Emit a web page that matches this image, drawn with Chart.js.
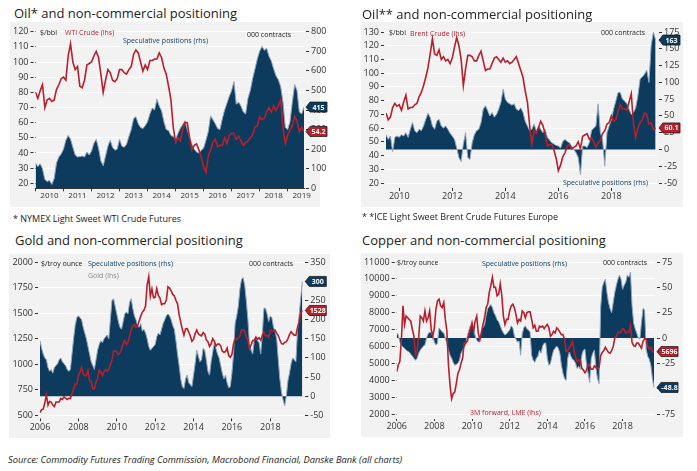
<!DOCTYPE html>
<html>
<head>
<meta charset="utf-8">
<script src="https://cdn.jsdelivr.net/npm/chart.js@4/dist/chart.umd.min.js"></script>
<style>
body { margin: 0; width: 697px; height: 471px; background: #fff; position: relative; overflow: hidden; font-family: "Open Sans", sans-serif; color: #1e1e1e; }
.box { position: absolute; background: #f2f2f2; }
canvas { position: absolute; }
.t { position: absolute; white-space: nowrap; line-height: 1; }
.title { font-size: 13px; color: #222; }
.lbl { font-size: 7px; color: #222; }
.note { font-size: 9px; color: #222; }
.red { color: #b71f2b; }
.navy { color: #0c3b5e; }
.grey { color: #8a8a8a; }
</style>
</head>
<body>
<div class="box" style="left:10px;top:22px;width:310px;height:185px"></div>
<div class="box" style="left:361px;top:22px;width:322px;height:185px"></div>
<div class="box" style="left:9px;top:254px;width:321px;height:184px"></div>
<div class="box" style="left:361px;top:253px;width:322px;height:184px"></div>

<canvas id="wti" width="322" height="185" style="left:10px;top:22px"></canvas>
<canvas id="brent" width="322" height="185" style="left:361px;top:22px"></canvas>
<canvas id="gold" width="323" height="184" style="left:9px;top:254px"></canvas>
<canvas id="copper" width="322" height="184" style="left:361px;top:253px"></canvas>

<div class="t title" style="left:14px;top:6.5px">Oil* and non-commercial positioning</div>
<div class="t title" style="left:362px;top:7.5px">Oil** and non-commercial positioning</div>
<div class="t title" style="left:15px;top:233.5px">Gold and non-commercial positioning</div>
<div class="t title" style="left:362px;top:233.5px">Copper and non-commercial positioning</div>

<div class="t lbl" style="left:40px;top:28.5px">$/bbl</div>
<div class="t lbl red" style="left:65px;top:28.5px">WTI Crude (lhs)</div>
<div class="t lbl navy" style="left:123px;top:36.5px">Speculative positions (rhs)</div>
<div class="t lbl" style="left:247px;top:30.5px">000 contracts</div>

<div class="t lbl" style="left:389px;top:28.5px">$/bbl</div>
<div class="t lbl red" style="left:410px;top:29.5px">Brent Crude (lhs)</div>
<div class="t lbl" style="left:601px;top:28.5px">000 contracts</div>
<div class="t lbl navy" style="left:563px;top:179px">Speculative positions (rhs)</div>

<div class="t lbl" style="left:41px;top:259.5px">$/troy ounce</div>
<div class="t lbl navy" style="left:88px;top:259.5px">Speculative positions (rhs)</div>
<div class="t lbl grey" style="left:88px;top:272px">Gold (lhs)</div>
<div class="t lbl" style="left:249px;top:259.5px">000 contracts</div>

<div class="t lbl" style="left:397px;top:258.5px">$/troy ounce</div>
<div class="t lbl navy" style="left:482px;top:260px">Speculative positions (rhs)</div>
<div class="t lbl" style="left:603px;top:258.5px">000 contracts</div>
<div class="t lbl red" style="left:470px;top:408.5px">3M forward, LME (lhs)</div>

<div class="t note" style="left:13px;top:214px">* NYMEX Light Sweet WTI Crude Futures</div>
<div class="t note" style="left:362px;top:211.5px">* *ICE Light Sweet Brent Crude Futures Europe</div>
<div class="t note" style="left:8px;top:455px;font-style:italic;font-size:9.3px">Source: Commodity Futures Trading Commission, Macrobond Financial, Danske Bank (all charts)</div>

<script>
// monthly series, first value = first month given in each panel's start
const wtiPrice = [
  80, 76, 81, 85, 70, 75, 76, 74, 75, 82, 85, 89,
  90, 88, 104, 112, 100, 95, 97, 84, 83, 88, 98, 99,
  100, 104, 107, 103, 92, 80, 88, 95, 93, 88, 87, 89,
  95, 95, 93, 92, 95, 97, 105, 108, 106, 100, 94, 98,
  95, 101, 101, 102, 102, 106, 103, 96, 92, 84, 75, 57,
  47, 50, 48, 55, 60, 60, 50, 42, 45, 46, 42, 37,
  31, 27, 38, 42, 47, 49, 44, 45, 45, 50, 46, 52,
  53, 53, 49, 51, 48, 45, 47, 48, 50, 52, 57, 58,
  64, 62, 63, 67, 70, 67, 71, 68, 71, 75, 57, 46,
  52, 55, 58, 64, 61, 54, 57, 54.2
];
const wtiSpec = [
  130, 110, 125, 100, 45, 35, 40, 20, 50, 130, 160, 175,
  200, 245, 270, 250, 210, 170, 160, 162, 165, 160, 185, 170,
  190, 230, 250, 205, 140, 115, 165, 215, 245, 210, 195, 200,
  250, 215, 210, 225, 265, 300, 355, 365, 330, 310, 305, 320,
  340, 380, 410, 400, 455, 420, 395, 340, 300, 295, 270, 265,
  250, 280, 305, 325, 345, 300, 260, 225, 200, 185, 180, 195,
  205, 245, 290, 370, 350, 330, 305, 300, 355, 400, 435, 470,
  500, 545, 430, 440, 420, 390, 380, 460, 500, 560, 610, 660,
  700, 725, 705, 715, 675, 650, 610, 575, 555, 520, 440, 310,
  300, 340, 440, 530, 500, 390, 380, 415
];

const brentPrice = [
  71, 66, 68, 75, 78, 76,
  77, 73, 79, 84, 74, 75, 75, 77, 78, 83, 86, 91,
  97, 104, 114, 125, 114, 113, 117, 110, 112, 109, 110, 107,
  111, 119, 126, 120, 110, 91, 103, 113, 113, 112, 109, 109,
  113, 116, 109, 102, 103, 103, 107, 111, 112, 110, 108, 111,
  108, 109, 107, 108, 110, 112, 107, 102, 97, 87, 79, 62,
  48, 58, 56, 60, 65, 62, 56, 47, 48, 48, 44, 38,
  29, 33, 39, 42, 47, 48, 45, 46, 47, 50, 45, 54,
  55, 56, 52, 53, 50, 46, 49, 51, 56, 58, 63, 64,
  69, 65, 66, 72, 77, 74, 74, 73, 79, 85, 63, 53,
  60, 64, 66, 71, 70, 63, 64, 59, 60.1
];
const brentSpec = [
  22, 15, 20, -3, 18, 20,
  18, 22, 20, 25, 18, 30, 40, 28, 25, 30, 28, 35,
  45, 54, 48, 35, 30, 42, 45, 35, 32, 35, 30, 24,
  20, 15, 2, -12, -18, 8, 25, -12, -15, 10, 22, 28,
  30, 40, 60, 65, 58, 50, 55, 48, 52, 60, 70, 90,
  75, 70, 68, 66, 68, 60, 58, 62, 55, 42, 35, 28,
  30, 38, 28, 35, 30, 25, 30, 18, 14, 10, 8, 6,
  5, 2, 12, 15, 12, 10, 5, 0, -5, -12, -38, 5,
  5, 3, 10, 28, 32, 35, 68, 25, 15, -25, 25, 35,
  45, 60, 72, 85, 85, 75, 72, 68, 60, 52, 55, 62,
  80, 105, 108, 112, 118, 100, 155, 175, 163
];

const goldPrice = [
  525, 555, 560, 620, 700, 600, 635, 630, 600, 585, 630, 630,
  630, 665, 655, 680, 668, 655, 666, 665, 713, 754, 807, 803,
  889, 925, 970, 909, 888, 890, 939, 839, 830, 760, 761, 822,
  858, 943, 925, 890, 928, 946, 934, 949, 996, 1043, 1127, 1134,
  1118, 1095, 1114, 1149, 1205, 1233, 1193, 1215, 1271, 1343, 1370, 1391,
  1360, 1374, 1424, 1474, 1512, 1529, 1572, 1780, 1860, 1666, 1739, 1652,
  1656, 1742, 1674, 1650, 1585, 1596, 1594, 1630, 1760, 1747, 1721, 1685,
  1671, 1627, 1593, 1485, 1414, 1343, 1286, 1347, 1349, 1316, 1275, 1225,
  1244, 1300, 1336, 1299, 1287, 1279, 1311, 1296, 1239, 1222, 1176, 1201,
  1251, 1227, 1179, 1198, 1199, 1181, 1128, 1117, 1125, 1159, 1086, 1068,
  1097, 1200, 1246, 1242, 1260, 1276, 1337, 1341, 1326, 1267, 1238, 1151,
  1192, 1234, 1231, 1267, 1246, 1260, 1236, 1283, 1315, 1280, 1283, 1265,
  1331, 1331, 1325, 1335, 1303, 1282, 1238, 1202, 1198, 1215, 1221, 1250,
  1291, 1320, 1300, 1286, 1284, 1359, 1413, 1500, 1528
];
const goldSpec = [
  145, 125, 110, 100, 95, 75, 65, 70, 60, 75, 80, 85,
  95, 100, 90, 85, 80, 70, 65, 70, 110, 150, 185, 205,
  210, 205, 200, 180, 165, 150, 130, 110, 90, 80, 70, 95,
  120, 135, 145, 140, 150, 155, 160, 150, 200, 250, 255, 235,
  215, 195, 180, 175, 195, 215, 220, 215, 245, 255, 230, 210,
  200, 185, 180, 190, 170, 175, 165, 150, 130, 120, 125, 130,
  135, 155, 165, 160, 175, 190, 200, 210, 215, 210, 200, 185,
  175, 145, 110, 80, 45, 25, 20, 45, 55, 35, 30, 25,
  55, 85, 120, 105, 90, 95, 125, 120, 95, 65, 55, 90,
  115, 140, 125, 110, 100, 80, 60, 45, 55, 35, 22, 25,
  60, 110, 190, 210, 235, 280, 305, 310, 290, 250, 200, 135,
  120, 110, 150, 155, 145, 140, 110, 160, 230, 230, 215, 195,
  210, 205, 180, 170, 150, 95, 45, 10, -10, -25, 0, 40,
  60, 85, 100, 95, 90, 170, 210, 255, 300
];

const copperPrice = [
  4500, 4900, 5100, 6400, 8400, 7300, 7800, 7700, 7600, 7500, 7000, 6600,
  5500, 5700, 6500, 7800, 7700, 7500, 8100, 7500, 7700, 8100, 7000, 6600,
  7100, 8200, 8700, 8800, 8400, 8300, 8600, 7600, 6900, 4900, 3700, 2900,
  3200, 3300, 3800, 4400, 4600, 5000, 5300, 6200, 6200, 6300, 6700, 7000,
  7400, 6900, 7500, 7800, 6800, 6400, 6800, 7300, 7700, 8300, 8500, 9200,
  9600, 10100, 9500, 9500, 9000, 9100, 9700, 9000, 7800, 7300, 7600, 7600,
  8100, 8400, 8500, 8300, 7900, 7400, 7600, 7500, 8100, 8000, 7700, 8000,
  8050, 8050, 7600, 7100, 7250, 6900, 6900, 7200, 7150, 7200, 7050, 7200,
  7300, 7100, 6600, 6700, 6900, 6800, 7100, 7000, 6850, 6700, 6700, 6400,
  5700, 5750, 5950, 6050, 6300, 5800, 5400, 5100, 5200, 5200, 4700, 4600,
  4450, 4600, 4950, 4850, 4650, 4650, 4850, 4750, 4700, 4750, 5450, 5650,
  5750, 5950, 5800, 5650, 5600, 5750, 6000, 6500, 6600, 6850, 6800, 6850,
  7050, 7000, 6800, 6850, 6850, 7250, 6250, 6050, 6000, 6200, 6200, 6050,
  5900, 6300, 6450, 6450, 6000, 5850, 5950, 5700, 5696
];
const copperSpec = [
  5, 3, -4, -7, -9, -10, -12, -13, -14, -16, -18, -20,
  -22, -20, -15, -12, -10, -8, -7, 0, 4, 6, 5, 2,
  -4, -7, -5, 10, 8, 6, 5, 0, -6, -12, -17, -20,
  -24, -27, -26, -25, -22, -15, -12, -9, -7, 2, 8, 12,
  13, 10, 2, -2, -4, -3, 8, 10, 13, 22, 29, 31,
  33, 30, 25, 22, 18, 16, 12, 8, 5, 3, 4, 6,
  8, 12, 10, 2, -1, -4, -3, -17, 4, 10, 12, 9,
  8, 6, -17, -22, -24, -20, -18, -12, -15, -8, -5, -5,
  -20, -27, -25, -18, -12, -10, -8, -10, -15, -27, -35, -40,
  -42, -20, -14, -18, -21, -22, -25, -30, -28, -31, -17, -12,
  -11, -27, -35, -44, -20, -15, -12, -30, -40, -45, 30, 50,
  55, 58, 45, 35, 29, 25, 35, 45, 52, 58, 62, 58,
  48, 52, 55, 62, 60, 65, 32, 15, 9, 5, 0, -1,
  15, 29, 28, -11, -18, -21, -27, -40, -48.8
];

const wtiYears = [2010, 2011, 2012, 2013, 2014, 2015, 2016, 2017, 2018, 2019];
const evenYears2010 = [2010, 2012, 2014, 2016, 2018];
const evenYears2006 = [2006, 2008, 2010, 2012, 2014, 2016, 2018];
const wtiLeftTicks = [20, 30, 40, 50, 60, 70, 80, 90, 100, 110, 120];
const wtiRightTicks = [0, 100, 200, 300, 400, 500, 600, 700, 800];
const brentLeftTicks = [20, 30, 40, 50, 60, 70, 80, 90, 100, 110, 120, 130];
const brentRightTicks = [-50, -25, 0, 25, 50, 75, 100, 125, 150, 175];
const goldLeftTicks = [500, 750, 1000, 1250, 1500, 1750, 2000];
const goldRightTicks = [-50, 0, 50, 100, 150, 200, 250, 300, 350];
const copperLeftTicks = [2000, 3000, 4000, 5000, 6000, 7000, 8000, 9000, 10000, 11000];
const copperRightTicks = [-75, -50, -25, 0, 25, 50, 75];

const NAVY = '#0c3b5e';
const RED = '#b71f2b';
const TICK = '#333';

Chart.defaults.font.family = '"Open Sans", sans-serif';

function monthSteps(year, month, n) {
  const out = [];
  for (let i = 0; i < n; i++) out.push(year + (month - 1 + i) / 12);
  return out;
}

function tagPlugin(tags) {
  return {
    id: 'tags',
    afterDraw(chart) {
      const ctx = chart.ctx;
      const x0 = chart.chartArea.right + 2;
      tags.forEach(t => {
        const y = chart.scales[t.axis].getPixelForValue(t.value);
        ctx.save();
        ctx.beginPath();
        ctx.moveTo(x0, y);
        ctx.lineTo(x0 + 4, y - 5);
        ctx.lineTo(x0 + 21, y - 5);
        ctx.lineTo(x0 + 21, y + 5);
        ctx.lineTo(x0 + 4, y + 5);
        ctx.closePath();
        ctx.fillStyle = t.color;
        ctx.fill();
        ctx.strokeStyle = '#1a1a1a';
        ctx.lineWidth = 0.8;
        ctx.stroke();
        ctx.fillStyle = '#fff';
        ctx.font = 'bold 7px "Open Sans"';
        ctx.textAlign = 'center';
        ctx.textBaseline = 'middle';
        ctx.fillText(t.text, x0 + 12.5, y + 0.5);
        ctx.restore();
      });
    }
  };
}

function panel(id, p) {
  const xs = monthSteps(p.start[0], p.start[1], p.price.length);
  const pts = vals => vals.map((v, i) => ({ x: xs[i], y: v }));
  const label = v => String(v);

  new Chart(document.getElementById(id), {
    type: 'line',
    data: {
      datasets: [
        { data: pts(p.price), yAxisID: 'y', borderColor: RED, borderWidth: 1.6, pointRadius: 0, fill: false },
        { data: pts(p.spec), yAxisID: 'y2', borderColor: '#93a7bb', borderWidth: 1, backgroundColor: NAVY, pointRadius: 0, fill: 'origin' }
      ]
    },
    options: {
      responsive: false,
      animation: false,
      devicePixelRatio: 1,
      layout: { padding: { top: p.top, left: 0, right: 0, bottom: 0 } },
      plugins: { legend: { display: false }, tooltip: { enabled: false } },
      scales: {
        x: {
          type: 'linear', min: p.xMin, max: p.xMax,
          afterBuildTicks: s => { s.ticks = p.years.map(v => ({ value: v })); },
          afterFit: s => { s.height = p.bottom; },
          ticks: { callback: label, font: { size: p.xFont }, color: TICK, padding: p.xPad, labelOffset: p.xOffset || 0, maxRotation: 0, autoSkip: false },
          grid: { drawOnChartArea: false, tickLength: p.xTick[0], tickBorderDash: p.xTick[1], tickColor: TICK },
          border: { display: !!p.xBorder, color: TICK, width: 1 }
        },
        y: {
          position: 'left', min: p.yMin, max: p.yMax,
          afterBuildTicks: s => { s.ticks = p.yTicks.map(v => ({ value: v })); },
          afterFit: s => { s.width = p.left; },
          ticks: { callback: label, font: { size: 9 }, color: TICK, padding: 2, autoSkip: false },
          grid: { color: '#fff', lineWidth: 1, tickColor: TICK, tickLength: 5, tickBorderDash: [3, 2] },
          border: { display: false }
        },
        y2: {
          position: 'right', min: p.y2Min, max: p.y2Max,
          afterBuildTicks: s => { s.ticks = p.y2Ticks.map(v => ({ value: v })); },
          afterFit: s => { s.width = p.right; },
          ticks: { callback: label, font: { size: 9 }, color: TICK, padding: 2, autoSkip: false },
          grid: { drawOnChartArea: false, tickColor: TICK, tickLength: 5, tickBorderDash: [0, 2, 3] },
          border: { display: false }
        }
      }
    },
    plugins: [tagPlugin(p.tags)]
  });
}

panel('wti', {
  start: [2010, 1], price: wtiPrice, spec: wtiSpec,
  xMin: 2010, xMax: 2019 + 7 / 12, years: wtiYears, xFont: 8, xPad: 0, xOffset: 14, xTick: [3, []], xBorder: true,
  yMin: 16.7, yMax: 120, yTicks: wtiLeftTicks, y2Min: 0, y2Max: 800, y2Ticks: wtiRightTicks,
  left: 25.5, right: 28, top: 9.7, bottom: 18.7,
  tags: [{ axis: 'y2', value: 415, text: '415', color: NAVY }, { axis: 'y', value: 54.2, text: '54.2', color: RED }]
});

panel('brent', {
  start: [2009, 7], price: brentPrice, spec: brentSpec,
  xMin: 2009.5, xMax: 2019.72, years: evenYears2010, xFont: 9, xPad: 0, xTick: [8, [0, 5, 3]],
  yMin: 20, yMax: 130, yTicks: brentLeftTicks, y2Min: -50, y2Max: 175, y2Ticks: brentRightTicks,
  left: 25, right: 26, top: 10, bottom: 24,
  tags: [{ axis: 'y2', value: 163, text: '163', color: NAVY }, { axis: 'y', value: 60.1, text: '60.1', color: RED }]
});

panel('gold', {
  start: [2006, 1], price: goldPrice, spec: goldSpec,
  xMin: 2006, xMax: 2019.72, years: evenYears2006, xFont: 9, xPad: 1, xTick: [6, [0, 3.4, 2.6]],
  yMin: 500, yMax: 2000, yTicks: goldLeftTicks, y2Min: -50, y2Max: 350, y2Ticks: goldRightTicks,
  left: 31, right: 28.7, top: 8.3, bottom: 22.7,
  tags: [{ axis: 'y2', value: 300, text: '300', color: NAVY }, { axis: 'y', value: 1528, text: '1528', color: RED }]
});

panel('copper', {
  start: [2006, 1], price: copperPrice, spec: copperSpec,
  xMin: 2006, xMax: 2019.72, years: evenYears2006, xFont: 9, xPad: 0, xTick: [7, [0, 5, 2]],
  yMin: 2000, yMax: 11000, yTicks: copperLeftTicks, y2Min: -75, y2Max: 75, y2Ticks: copperRightTicks,
  left: 35.7, right: 28, top: 9, bottom: 23,
  tags: [{ axis: 'y', value: 5696, text: '5696', color: RED }, { axis: 'y2', value: -48.8, text: '-48.8', color: NAVY }]
});
</script>
</body>
</html>
